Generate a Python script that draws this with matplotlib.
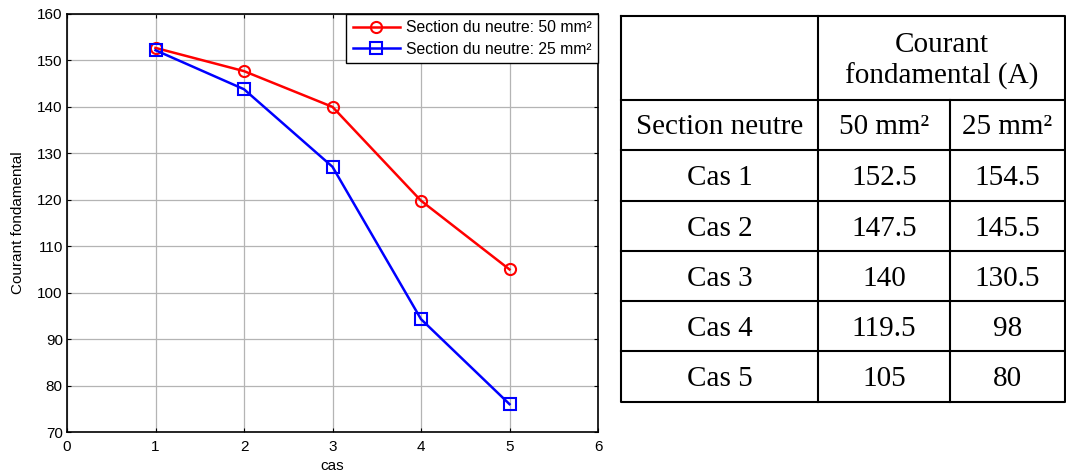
import numpy as np
import matplotlib.pyplot as plt

# Données
cas = [1, 2, 3, 4, 5]
courant_50 = [152.7, 147.7, 140.0, 119.8, 105.0]
courant_25 = [152.2, 143.8, 127.1, 94.3, 76.0]

# Données du tableau
tab_cas = ["Cas 1", "Cas 2", "Cas 3", "Cas 4", "Cas 5"]
tab_50 = ["152.5", "147.5", "140", "119.5", "105"]
tab_25 = ["154.5", "145.5", "130.5", "98", "80"]

plt.rcParams['font.family'] = ['Liberation Sans', 'DejaVu Sans']

fig = plt.figure(figsize=(10.66, 4.74), dpi=100)

# --- Courbe ---
ax = fig.add_axes([67 / 1066, 42 / 474, 531 / 1066, 418 / 474])
ax.plot(cas, courant_50, color='red', lw=1.8, marker='o', ms=8, mfc='none',
        mew=1.5, label="Section du neutre: 50 mm²")
ax.plot(cas, courant_25, color='blue', lw=1.8, marker='s', ms=8, mfc='none',
        mew=1.5, label="Section du neutre: 25 mm²")
ax.set_xlim(0, 6)
ax.set_ylim(70, 160)
ax.set_xticks(range(0, 7))
ax.set_yticks(range(70, 161, 10))
ax.grid(True, color='#b4b4b4', lw=0.9)
ax.tick_params(direction='in', top=True, right=True, labelsize=11, length=3)
ax.tick_params(axis='x', pad=6)
ax.tick_params(axis='y', pad=3)
for sp in ax.spines.values():
    sp.set_linewidth(1.2)
ax.set_xlabel("cas", fontsize=11, labelpad=3)
ax.set_ylabel("Courant fondamental", fontsize=11, labelpad=9)
leg = ax.legend(loc='upper right', fontsize=11.3, fancybox=False, framealpha=1,
                edgecolor='black', borderaxespad=0, handlelength=3.0,
                borderpad=0.4, labelspacing=0.4, handletextpad=0.4)
leg.get_frame().set_linewidth(1.0)

# --- Tableau ---
tx = fig.add_axes([0, 0, 1, 1])
tx.set_xlim(0, 1066)
tx.set_ylim(474, 0)
tx.axis('off')

col = [621, 818, 950, 1065]
row = [15.5, 99.5, 150, 201, 251, 301, 351, 401.5]
lk = dict(color='black', lw=1.5, solid_capstyle='projecting')

# contour
tx.plot([col[0], col[3], col[3], col[0], col[0]],
        [row[0], row[0], row[-1], row[-1], row[0]], **lk)
# lignes horizontales
for r in row[1:-1]:
    tx.plot([col[0], col[3]], [r, r], **lk)
# colonnes
tx.plot([col[1], col[1]], [row[0], row[-1]], **lk)
tx.plot([col[2], col[2]], [row[1], row[-1]], **lk)

fs = 21
ff = ['Liberation Serif', 'DejaVu Serif']
mid = lambda a, b: (a + b) / 2
tk = dict(ha='center', va='baseline', fontsize=fs, family=ff)
dy = 9.5  # décalage de la ligne de base

xh = mid(col[1], col[3])
yh = mid(row[0], row[1])
tx.text(xh, yh - 5.5, "Courant", **tk)
tx.text(xh, yh + 26, "fondamental (A)", **tk)
tx.text(mid(col[0], col[1]), mid(row[1], row[2]) + dy, "Section neutre", **tk)
tx.text(mid(col[1], col[2]), mid(row[1], row[2]) + dy, "50 mm²", **tk)
tx.text(mid(col[2], col[3]), mid(row[1], row[2]) + dy, "25 mm²", **tk)
for i in range(len(tab_cas)):
    y = mid(row[i + 2], row[i + 3]) + dy
    tx.text(mid(col[0], col[1]), y, tab_cas[i], **tk)
    tx.text(mid(col[1], col[2]), y, tab_50[i], **tk)
    tx.text(mid(col[2], col[3]), y, tab_25[i], **tk)

fig.savefig("out.png", dpi=100)
